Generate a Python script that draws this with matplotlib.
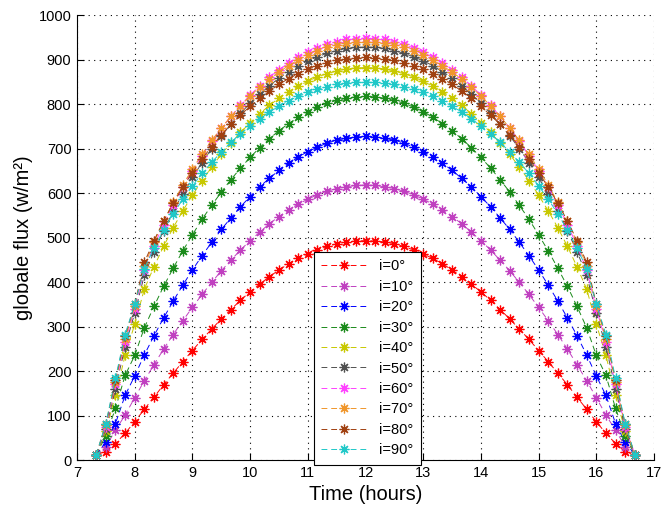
import numpy as np
import matplotlib
matplotlib.use("Agg")
import matplotlib.pyplot as plt

plt.rcParams['font.family'] = ['Liberation Sans', 'DejaVu Sans']

# time of each sample, minutes after midnight (every 10 min)
time_min = [440, 450, 460, 470, 480, 490, 500, 510, 520, 530, 540, 550, 560, 570, 580,
            590, 600, 610, 620, 630, 640, 650, 660, 670, 680, 690, 700, 710, 720, 730,
            740, 750, 760, 770, 780, 790, 800, 810, 820, 830, 840, 850, 860, 870, 880,
            890, 900, 910, 920, 930, 940, 950, 960, 970, 980, 990, 1000]

flux_i0 = [12, 19, 37, 60, 86, 114, 141, 169, 195, 221, 246, 271, 294, 317, 338, 359, 378, 395, 412,
           427, 441, 453, 463, 472, 480, 486, 490, 492, 493, 492, 490, 486, 480, 472, 463, 453, 441,
           427, 412, 395, 378, 359, 338, 317, 294, 271, 246, 221, 195, 169, 141, 114, 86, 60, 37, 19, 12]
flux_i10 = [12, 30, 67, 101, 140, 178, 214, 249, 282, 313, 343, 372, 399, 425, 449, 472, 493, 512, 531,
            547, 562, 575, 586, 596, 604, 610, 614, 617, 618, 617, 614, 610, 604, 596, 586, 575, 562,
            547, 531, 512, 493, 472, 449, 425, 399, 372, 343, 313, 282, 249, 214, 178, 140, 101, 67, 30, 12]
flux_i20 = [12, 40, 82, 145, 189, 236, 279, 319, 357, 393, 427, 459, 489, 518, 544, 569, 592, 614, 633,
            651, 667, 681, 693, 703, 712, 719, 723, 726, 727, 726, 723, 719, 712, 703, 693, 681, 667,
            651, 633, 614, 592, 569, 544, 518, 489, 459, 427, 393, 357, 319, 279, 236, 189, 145, 82, 40, 12]
flux_i30 = [12, 55, 116, 190, 235, 297, 345, 390, 431, 470, 506, 541, 572, 602, 630, 656, 680, 702, 722,
            740, 756, 770, 783, 793, 802, 808, 813, 816, 817, 816, 813, 808, 802, 793, 783, 770, 756,
            740, 722, 702, 680, 656, 630, 602, 572, 541, 506, 470, 431, 390, 345, 297, 235, 190, 116, 55, 12]
flux_i40 = [12, 65, 145, 235, 305, 384, 434, 480, 522, 560, 595, 628, 658, 687, 712, 736, 758, 778, 797,
            813, 828, 840, 851, 861, 868, 874, 879, 881, 882, 881, 879, 874, 868, 861, 851, 840, 828,
            813, 797, 778, 758, 736, 712, 687, 658, 628, 595, 560, 522, 480, 434, 384, 305, 235, 145, 65, 12]
flux_i50 = [12, 70, 160, 255, 330, 415, 468, 515, 559, 598, 635, 668, 700, 728, 755, 779, 802, 822, 841,
            858, 873, 886, 897, 906, 914, 920, 925, 927, 928, 927, 925, 920, 914, 906, 897, 886, 873,
            858, 841, 822, 802, 779, 755, 728, 700, 668, 635, 598, 559, 515, 468, 415, 330, 255, 160, 70, 12]
flux_i60 = [12, 75, 170, 265, 340, 427, 481, 529, 573, 613, 650, 684, 716, 745, 772, 797, 820, 841, 860,
            877, 892, 905, 916, 926, 934, 940, 945, 947, 948, 947, 945, 940, 934, 926, 916, 905, 892,
            877, 860, 841, 820, 797, 772, 745, 716, 684, 650, 613, 573, 529, 481, 427, 340, 265, 170, 75, 12]
flux_i70 = [12, 78, 175, 272, 345, 436, 489, 536, 579, 618, 654, 687, 718, 746, 772, 796, 818, 838, 856,
            872, 886, 899, 910, 919, 927, 933, 937, 939, 940, 939, 937, 933, 927, 919, 910, 899, 886,
            872, 856, 838, 818, 796, 772, 746, 718, 687, 654, 618, 579, 536, 489, 436, 345, 272, 175, 78, 12]
flux_i80 = [12, 80, 180, 278, 350, 444, 493, 537, 577, 613, 646, 677, 704, 730, 754, 775, 795, 813, 829,
            844, 857, 868, 878, 886, 893, 898, 902, 904, 905, 904, 902, 898, 893, 886, 878, 868, 857,
            844, 829, 813, 795, 775, 754, 730, 704, 677, 646, 613, 577, 537, 493, 444, 350, 278, 180, 80, 12]
flux_i90 = [12, 82, 184, 282, 350, 430, 476, 517, 553, 586, 616, 644, 669, 692, 714, 733, 751, 767, 782,
            795, 807, 817, 826, 833, 839, 844, 847, 849, 850, 849, 847, 844, 839, 833, 826, 817, 807,
            795, 782, 767, 751, 733, 714, 692, 669, 644, 616, 586, 553, 517, 476, 430, 350, 282, 184, 82, 12]

labels = ["i=0°", "i=10°", "i=20°", "i=30°", "i=40°", "i=50°", "i=60°", "i=70°", "i=80°", "i=90°"]
series = [flux_i0, flux_i10, flux_i20, flux_i30, flux_i40, flux_i50, flux_i60, flux_i70, flux_i80, flux_i90]
colors = ["#FF0000", "#C040C0", "#0000FF", "#1A8A1A", "#C8C800", "#505050",
          "#FF40FF", "#F0962A", "#A04010", "#20C8C8"]

x_ticks = [7, 8, 9, 10, 11, 12, 13, 14, 15, 16, 17]
y_ticks = [0, 100, 200, 300, 400, 500, 600, 700, 800, 900, 1000]

hours = np.array(time_min) / 60.0

fig = plt.figure(figsize=(6.69, 5.07), dpi=100)
ax = fig.add_axes([0.1151, 0.0927, 0.8625, 0.8777])
for v, c, lab in zip(series, colors, labels):
    ax.plot(hours, v, color=c, linestyle=(0, (6, 4)), marker=(8, 2, 0), ms=7,
            mew=0.9, lw=0.7, label=lab)

ax.set_xlim(7, 17)
ax.set_ylim(0, 1000)
ax.set_xticks(x_ticks)
ax.set_yticks(y_ticks)
ax.tick_params(direction='in', length=5, width=0.8, labelsize=10.5, pad=4,
               top=False, right=False)
ax.spines['top'].set_visible(False)
ax.spines['right'].set_visible(False)
ax.grid(True, color='black', linestyle=(0, (1, 4)), linewidth=0.8)
ax.set_axisbelow(True)

ax.set_xlabel("Time (hours)", fontsize=14.5, labelpad=4)
ax.set_ylabel("globale flux (w/m²)", fontsize=14.5, labelpad=4)

leg = ax.legend(loc='upper left', bbox_to_anchor=(0.41, 0.467), fontsize=10.5,
                frameon=True, fancybox=False, shadow=False, edgecolor='black',
                framealpha=1, handlelength=3.2, labelspacing=0.44, borderpad=0.5,
                handletextpad=0.8, numpoints=1, borderaxespad=0)
leg.get_frame().set_linewidth(0.8)
leg.set_zorder(5)

fig.savefig("out.png")
